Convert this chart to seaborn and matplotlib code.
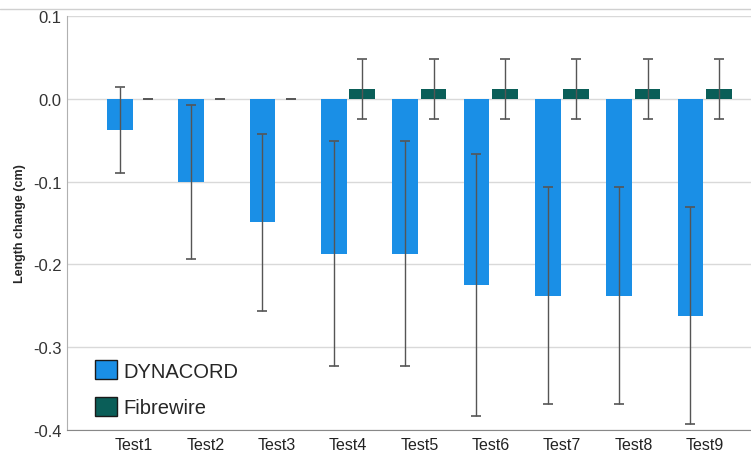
import numpy as np
import pandas as pd
import matplotlib
matplotlib.use("Agg")
import matplotlib.pyplot as plt
from matplotlib.lines import Line2D
from matplotlib.patches import Patch
import seaborn as sns

tests = ["Test1", "Test2", "Test3", "Test4", "Test5", "Test6", "Test7", "Test8", "Test9"]
dynacord_mean = [-0.038, -0.100, -0.149, -0.187, -0.187, -0.225, -0.238, -0.238, -0.262]
dynacord_err = [0.052, 0.093, 0.107, 0.136, 0.136, 0.158, 0.131, 0.131, 0.131]
fibrewire_mean = [0.0, 0.0, 0.0, 0.012, 0.012, 0.012, 0.012, 0.012, 0.012]
fibrewire_err = [0.0, 0.0, 0.0, 0.036, 0.036, 0.036, 0.036, 0.036, 0.036]
groups = ["DYNACORD", "Fibrewire"]
colors = {"DYNACORD": "#1a8fe6", "Fibrewire": "#0a5e58"}

df = pd.DataFrame({
    "test": tests * 2,
    "group": [groups[0]] * len(tests) + [groups[1]] * len(tests),
    "value": dynacord_mean + fibrewire_mean,
    "err": dynacord_err + fibrewire_err,
})

sns.set_style("white")
plt.rcParams["font.family"] = ["Liberation Sans", "DejaVu Sans"]

fig = plt.figure(figsize=(7.51, 4.52), dpi=100)
ax = fig.add_axes([67 / 751, 1 - 431 / 452, 1 - 67 / 751, (431 - 17) / 452])

sns.barplot(data=df, x="test", y="value", hue="group", palette=colors,
            order=tests, hue_order=groups, errorbar=None, width=0.8, gap=0.1,
            saturation=1, ax=ax, legend=False, linewidth=0, zorder=2)

# error bars on each bar, positioned from the drawn patches
errs = dynacord_err + fibrewire_err
for p, e in zip(list(ax.patches), errs):
    cx = p.get_x() + p.get_width() / 2
    ax.errorbar(cx, p.get_height(), yerr=e, fmt="none", ecolor="#555555",
                elinewidth=1.0, capsize=3.5, capthick=1.2, zorder=3)

ax.set_ylim(-0.4, 0.1)
ax.set_xlim(-0.94, 8.65)
ax.set_yticks([-0.4, -0.3, -0.2, -0.1, 0.0, 0.1])
ax.set_yticklabels(["-0.4", "-0.3", "-0.2", "-0.1", "0.0", "0.1"])
ax.yaxis.grid(True, color="#d9d9d9", linewidth=1.0, zorder=0)
ax.set_axisbelow(True)
ax.tick_params(axis="y", length=0, labelsize=12, labelcolor="#333333", pad=4)
ax.tick_params(axis="x", length=0, labelsize=11.5, labelcolor="#222222", pad=5)
ax.set_xlabel("")
ax.set_ylabel("Length change (cm)", fontsize=9, fontweight="bold", labelpad=5)

for side in ["top", "right"]:
    ax.spines[side].set_visible(False)
ax.spines["left"].set_color("#b0b0b0")
ax.spines["bottom"].set_color("#888888")

handles = [Patch(facecolor=colors[g], edgecolor="#1a1a1a", linewidth=1.0) for g in groups]
ax.legend(handles, groups, loc="lower left", bbox_to_anchor=(0.014, -0.013),
          frameon=False, fontsize=14.5, handlelength=1.1, handleheight=1.1,
          handletextpad=0.3, labelspacing=0.8)

fig.add_artist(Line2D([0, 1], [1 - 10 / 452, 1 - 10 / 452], color="#d0d0d0", linewidth=1.0))

fig.savefig("out.png", dpi=100)
